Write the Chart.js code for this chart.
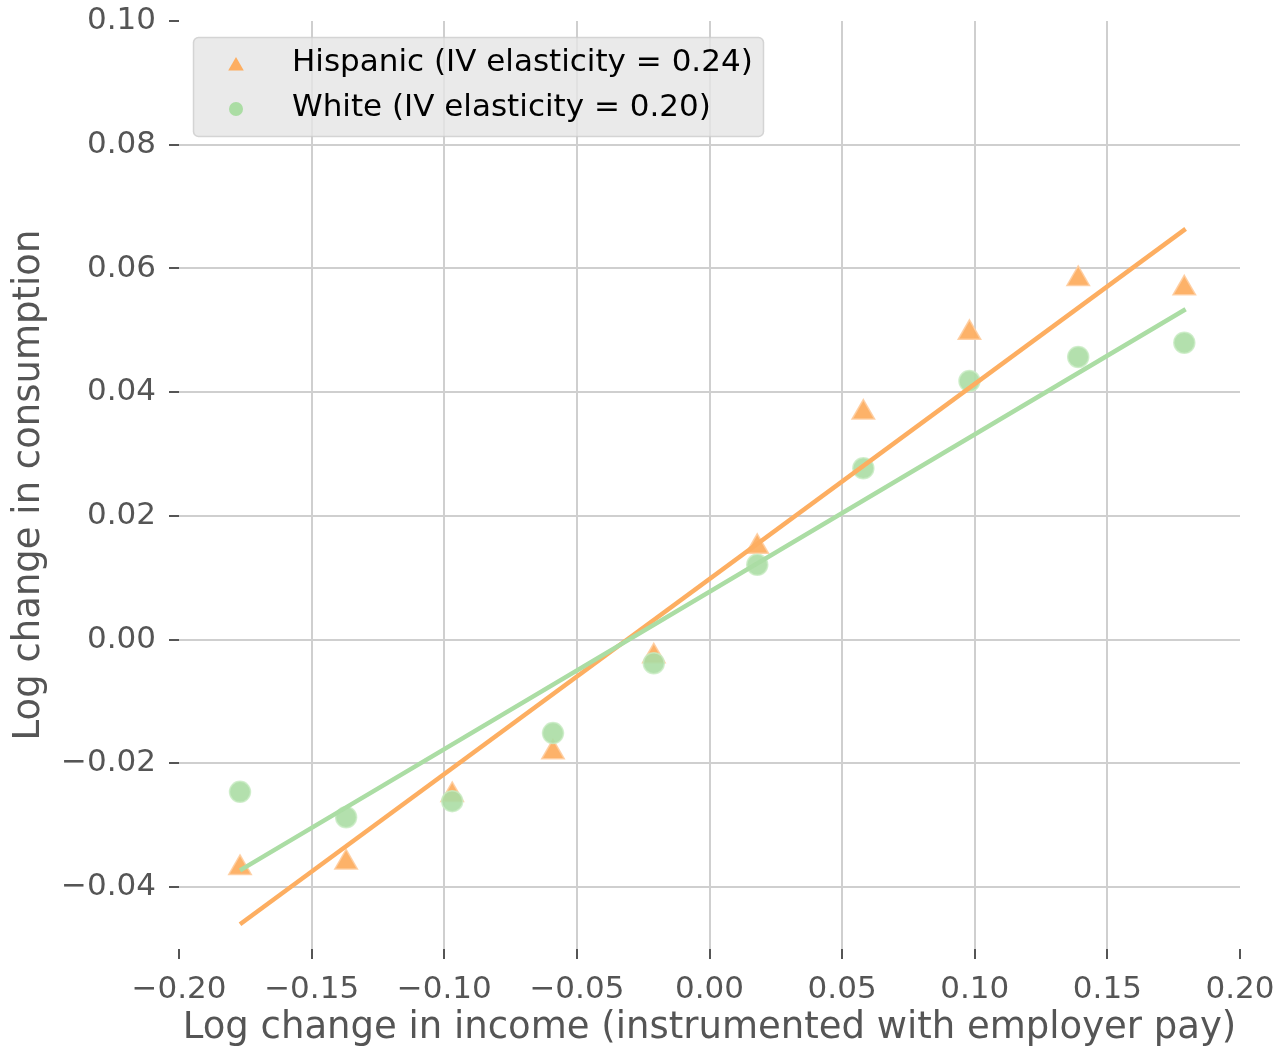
<!DOCTYPE html>
<html>
<head>
<meta charset="utf-8">
<script src="https://cdn.jsdelivr.net/npm/chart.js@4/dist/chart.umd.min.js"></script>
<style>
  html, body { margin: 0; padding: 0; background: #fff; }
  #wrap { width: 1287px; height: 1051px; }
</style>
</head>
<body>
<div id="wrap"><canvas id="chart" width="1287" height="1051"></canvas></div>
<script>
// Dữ liệu
const incomeBins = [-0.177, -0.137, -0.097, -0.059, -0.021, 0.018, 0.058, 0.098, 0.139, 0.179];
const hispanicCons = [-0.0369, -0.0360, -0.0251, -0.0182, -0.0027, 0.0150, 0.0367, 0.0496, 0.0583, 0.0568];
const whiteCons = [-0.0246, -0.0287, -0.0261, -0.0151, -0.0038, 0.0121, 0.0277, 0.0418, 0.0457, 0.0480];

// fitted lines, end points only
const fitX = [-0.177, 0.1795];
const hispanicFit = [-0.0460, 0.0664];
const whiteFit = [-0.0373, 0.0534];

const hispanicLabel = 'Hispanic (IV elasticity = 0.24)';
const whiteLabel = 'White (IV elasticity = 0.20)';

const xTicks = [-0.20, -0.15, -0.10, -0.05, 0.00, 0.05, 0.10, 0.15, 0.20];
const yTicks = [-0.04, -0.02, 0.00, 0.02, 0.04, 0.06, 0.08, 0.10];

const xTitle = 'Log change in income (instrumented with employer pay)';
const yTitle = 'Log change in consumption';

const ORANGE = '#fdae61';
const GREEN = '#abdda4';
const FONT = "'DejaVu Sans', sans-serif";

function toPoints(xs, ys) {
    return xs.map((x, i) => ({ x: x, y: ys[i] }));
}

function fmtTick(v) {
    const s = Math.abs(v).toFixed(2);
    return v < -1e-9 ? '\u2212' + s : s;
}

// grid lines hidden at the outer edges, like the original
function edgeGrid(ctx) {
    const n = ctx.scale.ticks.length;
    if (ctx.index === 0 && ctx.scale.axis === 'x') return 'rgba(0,0,0,0)';
    if (ctx.index === n - 1) return 'rgba(0,0,0,0)';
    return '#cfcfcf';
}

// Chú thích có nền xám
const boxLegend = {
    id: 'boxLegend',
    afterDraw(chart) {
        const ctx = chart.ctx;
        const items = chart.data.datasets
            .filter(d => d.legendRow !== undefined)
            .sort((a, b) => a.legendRow - b.legendRow);
        ctx.save();
        ctx.beginPath();
        ctx.roundRect(193.5, 37.5, 570, 99, 5);
        ctx.fillStyle = 'rgba(229,229,229,0.8)';
        ctx.fill();
        ctx.strokeStyle = 'rgba(204,204,204,0.8)';
        ctx.lineWidth = 1.5;
        ctx.stroke();

        ctx.font = '31px ' + FONT;
        ctx.textBaseline = 'middle';
        ctx.textAlign = 'left';
        items.forEach((d, i) => {
            const y = 63 + i * 45;
            ctx.fillStyle = d.backgroundColor;
            ctx.strokeStyle = d.backgroundColor;
            Chart.helpers.drawPoint(ctx, {
                pointStyle: d.pointStyle,
                radius: d.pointStyle === 'triangle' ? 9 : 7,
                rotation: 0,
                borderWidth: 0
            }, 236, y + (d.pointStyle === 'triangle' ? 3 : 1));
            ctx.fillStyle = '#000';
            ctx.fillText(d.label, 292, y);
        });
        ctx.restore();
    }
};

new Chart(document.getElementById('chart'), {
    type: 'scatter',
    data: {
        datasets: [
            {
                label: whiteLabel + ' fit',
                data: toPoints(fitX, whiteFit),
                showLine: true,
                borderColor: GREEN,
                borderWidth: 4.5,
                pointRadius: 0,
                order: 1
            },
            {
                label: hispanicLabel + ' fit',
                data: toPoints(fitX, hispanicFit),
                showLine: true,
                borderColor: ORANGE,
                borderWidth: 4.5,
                pointRadius: 0,
                order: 2
            },
            {
                label: whiteLabel,
                legendRow: 1,
                data: toPoints(incomeBins, whiteCons),
                pointStyle: 'circle',
                pointRadius: 10.5,
                backgroundColor: GREEN,
                pointBackgroundColor: 'rgba(171,221,164,0.9)',
                pointBorderColor: 'rgba(200,235,195,0.8)',
                pointBorderWidth: 1.5,
                order: 3
            },
            {
                label: hispanicLabel,
                legendRow: 0,
                data: toPoints(incomeBins, hispanicCons),
                pointStyle: 'triangle',
                pointRadius: 13,
                backgroundColor: ORANGE,
                pointBackgroundColor: 'rgba(253,174,97,0.95)',
                pointBorderColor: 'rgba(254,205,160,0.9)',
                pointBorderWidth: 1.5,
                order: 4
            }
        ]
    },
    options: {
        responsive: false,
        animation: false,
        layout: { padding: { top: 21, right: 47, left: 0, bottom: 0 } },
        plugins: {
            legend: { display: false },
            tooltip: { enabled: false }
        },
        scales: {
            x: {
                type: 'linear',
                min: -0.2,
                max: 0.2,
                afterFit: s => { s.height = 102; s.paddingLeft = 0; s.paddingRight = 0; },
                afterBuildTicks: s => { s.ticks = xTicks.map(v => ({ value: v })); },
                border: { display: false },
                grid: {
                    color: edgeGrid,
                    lineWidth: 2,
                    tickColor: '#555',
                    tickWidth: 2,
                    tickLength: 10
                },
                ticks: {
                    color: '#555',
                    font: { family: FONT, size: 31 },
                    padding: 12,
                    maxRotation: 0,
                    callback: v => fmtTick(v)
                },
                title: {
                    display: true,
                    text: xTitle,
                    color: '#555',
                    font: { family: FONT, size: 37, lineHeight: 1.2 },
                    padding: { top: 0, bottom: 0 }
                }
            },
            y: {
                type: 'linear',
                min: -0.05,
                max: 0.10,
                afterFit: s => { s.width = 179; s.paddingTop = 0; s.paddingBottom = 0; },
                afterBuildTicks: s => { s.ticks = yTicks.map(v => ({ value: v })); },
                border: { display: false },
                grid: {
                    color: edgeGrid,
                    lineWidth: 2,
                    tickColor: '#555',
                    tickWidth: 2,
                    tickLength: 10
                },
                ticks: {
                    color: '#555',
                    font: { family: FONT, size: 31 },
                    padding: 13,
                    callback: v => fmtTick(v)
                },
                title: {
                    display: true,
                    text: yTitle,
                    color: '#555',
                    font: { family: FONT, size: 37, lineHeight: 1.2 },
                    padding: { top: 7, bottom: 0 }
                }
            }
        }
    },
    plugins: [boxLegend]
});
</script>
</body>
</html>
